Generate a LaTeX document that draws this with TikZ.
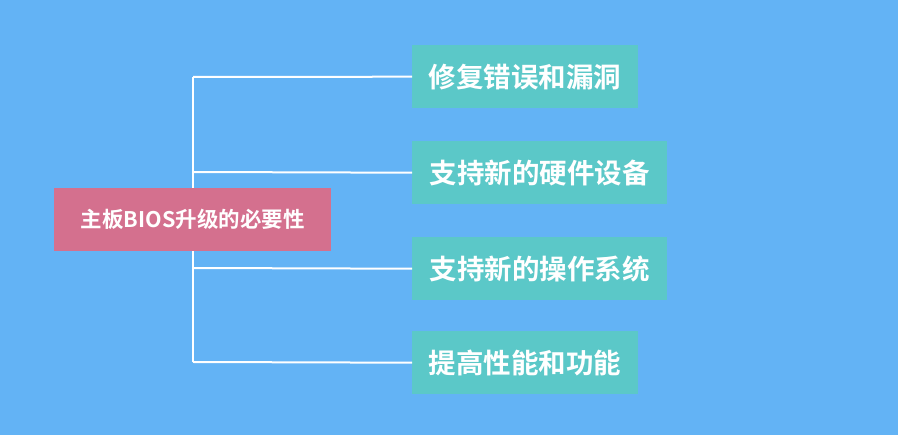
\documentclass[tikz,border=0pt]{standalone}
\usepackage{fontspec}
\newfontfamily\cjk{Noto Sans CJK SC Bold}
\definecolor{bg}{HTML}{63B3F5}
\definecolor{rootc}{HTML}{D4708E}
\definecolor{leafc}{HTML}{5BC8C8}
\begin{document}
\begin{tikzpicture}[x=1pt,y=-1pt,
  root/.style={fill=rootc,text=white,font=\cjk\fontsize{21.5}{24}\selectfont,anchor=north west,inner sep=0,text centered},
  leaf/.style={fill=leafc,text=white,font=\cjk\fontsize{27.5}{30}\selectfont,anchor=north west,inner sep=0,text centered},
  link/.style={draw=white,line width=2pt}]
\fill[bg] (0,0) rectangle (898,435);
\useasboundingbox (0,0) rectangle (898,435);
\coordinate (top) at (193,77);
\coordinate (bot) at (193,362);
\coordinate (j2) at (193,172);
\coordinate (j3) at (193,268);
\draw[link] (top) -- (bot);
\node[root,minimum width=277,minimum height=63] (r) at (54,188) {主板BIOS升级的必要性};
\node[leaf,minimum width=226,minimum height=63] (a) at (412,45) {修复错误和漏洞};
\node[leaf,minimum width=255,minimum height=63] (b) at (412,141) {支持新的硬件设备};
\node[leaf,minimum width=255,minimum height=63] (c) at (412,237) {支持新的操作系统};
\node[leaf,minimum width=226,minimum height=63] (d) at (412,331) {提高性能和功能};
\draw[link] (top) -- (a.west);
\draw[link] (j2) -- (b.west);
\draw[link] (j3) -- (c.west);
\draw[link] (bot) -- (d.west);
\end{tikzpicture}
\end{document}
